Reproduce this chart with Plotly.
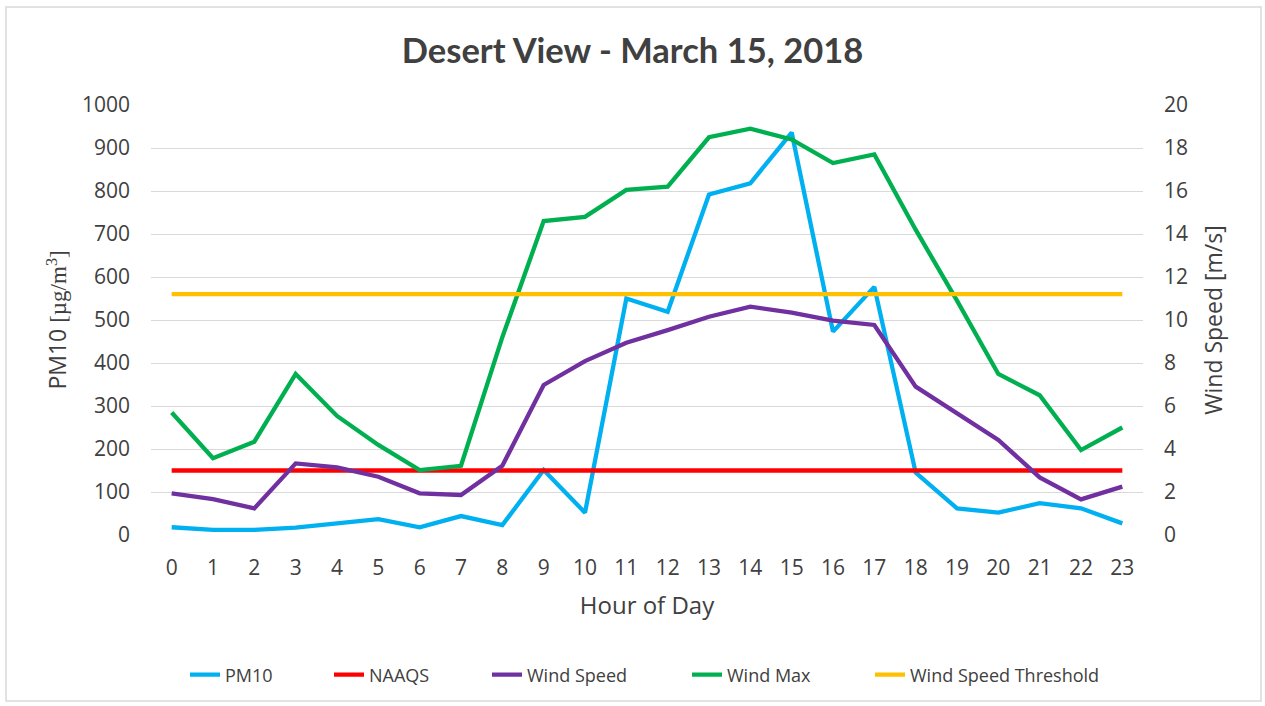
import plotly.graph_objects as go
from plotly.subplots import make_subplots

hours = list(range(24))
pm10 = [18, 12, 12, 17, 27, 37, 18, 44, 23, 151, 52, 550,
        519, 792, 818, 936, 473, 577, 145, 62, 52, 74, 62, 27]
naaqs = [150] * 24
wind_speed = [1.94, 1.67, 1.24, 3.33, 3.15, 2.71, 1.94, 1.86, 3.22, 6.98, 8.09, 8.94,
              9.53, 10.15, 10.62, 10.34, 9.97, 9.77, 6.9, 5.66, 4.42, 2.68, 1.66, 2.25]
wind_max = [5.7, 3.57, 4.34, 7.49, 5.54, 4.19, 3.02, 3.22, 9.2, 14.6, 14.8, 16.05,
            16.2, 18.5, 18.9, 18.4, 17.3, 17.7, 14.2, 10.9, 7.49, 6.5, 3.95, 5.0]
wind_threshold = [11.2] * 24

left_ticks = list(range(0, 1001, 100))
right_ticks = list(range(0, 21, 2))

W, H = 1265, 706
L, R, T, B = 151, 122, 105, 171
PW = W - L - R
PH = H - T - B

FONT = "Open Sans"
TXT = "#404040"

fig = make_subplots(specs=[[{"secondary_y": True}]])

series = [
    ("PM10", hours, pm10, "#00B0F0", False, "legend"),
    ("NAAQS", hours, naaqs, "#FF0000", False, "legend2"),
    ("Wind Speed", hours, wind_speed, "#7030A0", True, "legend3"),
    ("Wind Max", hours, wind_max, "#00B050", True, "legend4"),
    ("Wind Speed Threshold", hours, wind_threshold, "#FFC000", True, "legend5"),
]
for name, xs, ys, color, sec, lg in series:
    fig.add_trace(
        go.Scatter(x=xs, y=ys, name=name, mode="lines",
                   line=dict(color=color, width=4.3),
                   legend=lg, hoverinfo="x+y+name"),
        secondary_y=sec,
    )

# legend text start positions (px) in the reference
text_starts = [225, 369, 527, 727, 910]
legend_y = (T + PH - 675) / PH  # paper y
legend_layouts = {}
for i, xs in enumerate(text_starts):
    key = "legend" if i == 0 else f"legend{i+1}"
    legend_layouts[key] = dict(
        x=(xs - 40 - L) / PW, y=legend_y, xanchor="left", yanchor="middle",
        orientation="h", bgcolor="rgba(0,0,0,0)", borderwidth=0,
        font=dict(family=FONT, size=18, color=TXT),
    )

fig.update_layout(
    width=W, height=H,
    margin=dict(l=L, r=R, t=T, b=B, autoexpand=False),
    paper_bgcolor="white", plot_bgcolor="white",
    font=dict(family=FONT, color=TXT),
    title=dict(text="<b>Desert View - March 15, 2018</b>",
               x=0.5, xanchor="center", xref="container",
               y=1 - 51 / H, yanchor="middle", yref="container",
               font=dict(family="Lato", size=34.5, color=TXT)),
    showlegend=True,
    **legend_layouts,
    shapes=[dict(type="rect", xref="paper", yref="paper",
                 x0=(6 - L) / PW, x1=(1261 - L) / PW,
                 y0=(T + PH - 701) / PH, y1=(T + PH - 7) / PH,
                 line=dict(color="#D9D9D9", width=1.5), fillcolor="rgba(0,0,0,0)",
                 layer="below")],
)

fig.update_xaxes(
    domain=[0, 1],
    range=[-0.5, 23.5], tickmode="array", tickvals=hours,
    ticktext=[str(h) for h in hours],
    showgrid=False, zeroline=False, showline=False, ticks="",
    tickfont=dict(family=FONT, size=21, color=TXT),
    ticklabelstandoff=18,
    title=dict(text="Hour of Day", font=dict(family=FONT, size=24, color=TXT), standoff=17),
)
fig.update_yaxes(
    range=[0, 1000], tickmode="array", tickvals=left_ticks,
    showgrid=True, gridcolor="#D9D9D9", gridwidth=1.3, zeroline=False, showline=False,
    ticks="", tickfont=dict(family=FONT, size=21, color=TXT), ticklabelstandoff=20,
    title=dict(text="PM10 <span style='font-family:Liberation Serif'>[µg/m<sup>3</sup>]</span>",
               font=dict(family=FONT, size=23, color=TXT), standoff=8),
    secondary_y=False,
)
fig.update_yaxes(
    range=[0, 20], tickmode="array", tickvals=right_ticks,
    showgrid=False, zeroline=False, showline=False,
    ticks="", tickfont=dict(family=FONT, size=21, color=TXT), ticklabelstandoff=20,
    title=dict(text="Wind Speed [m/s]", font=dict(family=FONT, size=23, color=TXT), standoff=18),
    secondary_y=True,
)

fig.write_html("out.html", config={"displayModeBar": False},
               post_script="document.body.style.margin='0';")
